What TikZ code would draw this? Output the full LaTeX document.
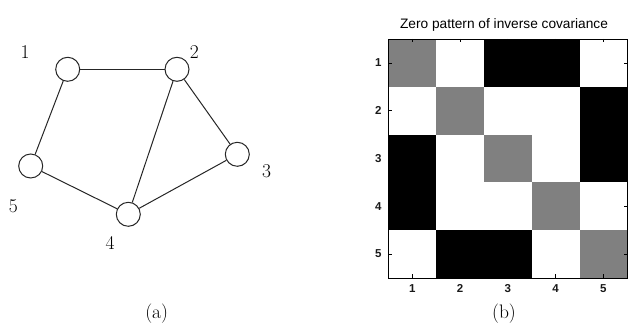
\documentclass[tikz,border=0pt]{standalone}
\usepackage{fontspec}
\newfontfamily\plotfont{Liberation Sans}
\begin{document}
\begin{tikzpicture}[x=1pt,y=-1pt,
  vert/.style={circle,draw=black!85,line width=1pt,minimum size=24pt,inner sep=0pt,fill=white},
  edge/.style={draw=black!85,line width=1pt},
  vlabel/.style={font=\fontsize{19.5}{22}\selectfont,inner sep=0pt,text=black},
  subcap/.style={font=\fontsize{19.5}{22}\selectfont,inner sep=0pt,text=black},
  ticklab/.style={font=\plotfont\bfseries\fontsize{11.5}{13}\selectfont,inner sep=0pt,text=black!90},
  titlelab/.style={font=\plotfont\fontsize{13.7}{15}\selectfont,inner sep=0pt,text=black}
]
\useasboundingbox (0,0) rectangle (634,328);
% (a) graph
\node[vert] (n1) at (67.7,69.3) {};
\node[vert] (n2) at (177,69.3) {};
\node[vert] (n3) at (237.3,154.3) {};
\node[vert] (n4) at (128.3,214.3) {};
\node[vert] (n5) at (30.7,166) {};
\draw[edge] (n1) -- (n2);
\draw[edge] (n1) -- (n5);
\draw[edge] (n2) -- (n4);
\draw[edge] (n2) -- (n3);
\draw[edge] (n3) -- (n4);
\draw[edge] (n5) -- (n4);
\node[vlabel] (l1) at (25,51.7) {1};
\node[vlabel] (l2) at (194.3,51.7) {2};
\node[vlabel] (l3) at (266.7,171.7) {3};
\node[vlabel] (l4) at (110,243) {4};
\node[vlabel] (l5) at (13.3,206.7) {5};
\node[subcap] (ca) at (156.7,314) {(a)};
% (b) matrix
\def\cs{47.8}
\def\mx{388.3}
\def\my{39}
\foreach \r/\c/\col in {
  1/1/black!50,1/2/white,1/3/black,1/4/black,1/5/white,
  2/1/white,2/2/black!50,2/3/white,2/4/white,2/5/black,
  3/1/black,3/2/white,3/3/black!50,3/4/white,3/5/black,
  4/1/black,4/2/white,4/3/white,4/4/black!50,4/5/white,
  5/1/white,5/2/black,5/3/black,5/4/white,5/5/black!50}{
  \fill[\col] ({\mx+(\c-1)*\cs},{\my+(\r-1)*\cs}) rectangle ++(\cs,\cs);
}
\node[draw=black,line width=1pt,minimum width=239pt,minimum height=239pt,inner sep=0pt,anchor=north west] (frame) at (\mx,\my) {};
\foreach \i in {1,...,5}{
  \draw[line width=0.7pt] ({\mx+(\i-0.5)*\cs},\my) -- ++(0,3.5);
  \draw[line width=0.7pt] ({\mx+(\i-0.5)*\cs},{\my+5*\cs}) -- ++(0,-3.5);
  \draw[line width=0.7pt] (\mx,{\my+(\i-0.5)*\cs}) -- ++(3.5,0);
  \draw[line width=0.7pt] ({\mx+5*\cs},{\my+(\i-0.5)*\cs}) -- ++(-3.5,0);
  \node[ticklab] (r\i) at (378.3,{\my+(\i-0.5)*\cs}) {\i};
  \node[ticklab] (c\i) at ({\mx+(\i-0.5)*\cs},288.3) {\i};
}
\node[titlelab] (title) at (504,24.7) {Zero pattern of inverse covariance};
\node[subcap] (cb) at (504,314) {(b)};
\end{tikzpicture}
\end{document}
